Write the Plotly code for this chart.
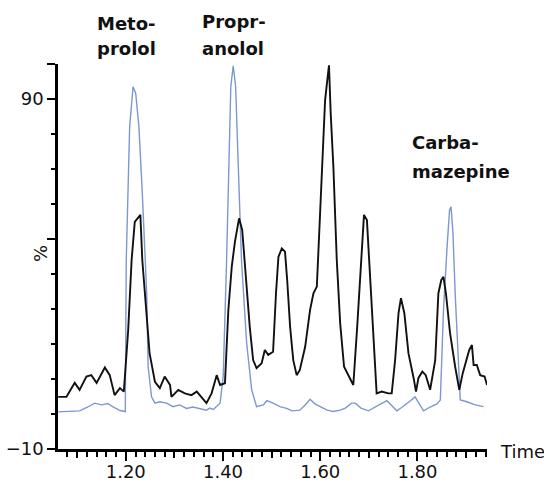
import plotly.graph_objects as go

# ---- data ----
time_black = [1.061, 1.078, 1.095, 1.105, 1.119, 1.129, 1.140, 1.157, 1.167, 1.177, 1.188, 1.196,
              1.205, 1.212, 1.2185, 1.225, 1.230, 1.234, 1.243, 1.249, 1.260, 1.270, 1.280, 1.291,
              1.294, 1.308, 1.3215, 1.335, 1.346, 1.356, 1.366, 1.3765, 1.387, 1.394, 1.404,
              1.411, 1.418, 1.4245, 1.433, 1.4395, 1.4465, 1.455, 1.462, 1.469, 1.4795, 1.486,
              1.493, 1.503, 1.509, 1.514, 1.521, 1.5275, 1.532, 1.538, 1.5445, 1.5515, 1.558,
              1.569, 1.579, 1.586, 1.593, 1.598, 1.604, 1.610, 1.6145, 1.618, 1.6215, 1.627,
              1.634, 1.641, 1.649, 1.658, 1.668, 1.676, 1.683, 1.690, 1.696, 1.7025, 1.709,
              1.716, 1.7265, 1.740, 1.747, 1.754, 1.761, 1.766, 1.773, 1.7815, 1.792, 1.797,
              1.802, 1.810, 1.817, 1.826, 1.8365, 1.843, 1.849, 1.8535, 1.8585, 1.867, 1.8775,
              1.886, 1.893, 1.902, 1.9065, 1.912, 1.9155, 1.922, 1.929, 1.938, 1.943]
pct_black = [4.9, 4.9, 8.9, 6.9, 10.7, 11.1, 8.9, 13.3, 11.1, 5.4, 7.4, 6.4,
             24.0, 44.0, 54.9, 55.9, 56.9, 44.0, 28.8, 17.3, 9.2, 7.4, 10.7, 8.3,
             4.9, 6.9, 5.9, 5.4, 6.4, 4.9, 3.1, 5.9, 11.1, 8.3, 8.8,
             29.7, 42.1, 49.2, 55.9, 52.6, 40.2, 24.9, 15.4, 13.1, 14.5, 18.3,
             16.9, 17.8, 34.5, 44.9, 47.3, 46.4, 38.3, 24.9, 15.4, 11.1, 12.6,
             19.2, 29.7, 34.5, 36.4, 53.5, 72.6, 89.7, 95.4, 99.6, 85.9, 70.7,
             44.0, 25.9, 13.5, 11.1, 8.3, 24.9, 42.1, 56.9, 55.4, 39.2, 20.2,
             5.9, 6.4, 5.9, 5.9, 15.4, 28.8, 33.1, 28.8, 17.3, 10.3, 6.4,
             10.3, 12.1, 11.1, 6.9, 15.4, 34.5, 38.3, 39.2, 34.5, 23.1, 13.5,
             6.9, 11.6, 16.4, 18.3, 19.7, 14.0, 14.0, 11.1, 10.7, 8.3]

time_blue = [1.061, 1.085, 1.105, 1.122, 1.136, 1.150, 1.163, 1.173, 1.188, 1.199,
             1.201, 1.208, 1.215, 1.2205, 1.227, 1.234, 1.243, 1.246, 1.253, 1.260,
             1.270, 1.284, 1.297, 1.311, 1.325, 1.338, 1.352, 1.366, 1.373, 1.380, 1.394,
             1.4004, 1.4074, 1.412, 1.416, 1.421, 1.426, 1.431, 1.438, 1.4486, 1.459,
             1.469, 1.483, 1.490, 1.503, 1.517, 1.531, 1.542, 1.558, 1.569, 1.579, 1.589,
             1.600, 1.614, 1.627, 1.641, 1.6515, 1.6645, 1.672, 1.684, 1.699, 1.713, 1.723,
             1.737, 1.746, 1.7575, 1.766, 1.775, 1.785, 1.795, 1.8035, 1.8125, 1.826, 1.840,
             1.847, 1.8535, 1.8605, 1.866, 1.869, 1.873, 1.8775, 1.8845, 1.888, 1.9015,
             1.919, 1.936]
pct_blue = [0.6, 0.7, 0.9, 2.0, 3.1, 2.6, 3.0, 2.1, 1.0, 0.7,
            44.0, 82.1, 93.5, 91.6, 82.1, 63.1, 34.6, 13.5, 4.9, 3.1,
            3.5, 3.1, 2.1, 2.6, 1.6, 2.0, 1.6, 1.1, 1.7, 1.3, 3.1,
            10.7, 44.0, 72.6, 93.5, 99.5, 93.5, 72.6, 44.0, 20.3, 6.9,
            2.1, 2.6, 3.8, 3.1, 2.1, 1.6, 0.9, 1.1, 2.6, 4.2, 2.9,
            2.1, 1.1, 0.7, 1.1, 1.7, 3.1, 3.1, 1.7, 0.9, 2.0, 2.9,
            3.8, 2.6, 0.9, 1.7, 2.6, 3.7, 4.9, 3.1, 0.9, 2.0, 2.9,
            4.0, 29.7, 46.9, 58.3, 59.2, 51.6, 34.5, 13.5, 4.0, 3.5,
            2.6, 2.1]

x_major = [1.20, 1.40, 1.60, 1.80]
x_major_text = ["1.20", "1.40", "1.60", "1.80"]
x_medium = [1.10, 1.30, 1.50, 1.70, 1.90]
y_ticks = [-10, 50, 90, 100]
y_ticks_text = ["\u221210", "", "90", ""]

# peak labels: (text, x in data units, y in paper units)
peak_labels = [
    ("Meto-", 1.1361, 1.105), ("prolol", 1.1361, 1.039),
    ("Propr-", 1.3524, 1.110), ("anolol", 1.3524, 1.039),
    ("Carba-", 1.785, 0.795), ("mazepine", 1.785, 0.721),
]

X_RANGE = [1.0606, 1.943]
Y_RANGE = [-10, 100]
FONT = "DejaVu Sans"

fig = go.Figure()
fig.add_trace(go.Scatter(x=time_blue, y=pct_blue, mode="lines",
                         line=dict(color="#7d97d2", width=1.4), showlegend=False,
                         hoverinfo="skip"))
fig.add_trace(go.Scatter(x=time_black, y=pct_black, mode="lines",
                         line=dict(color="#111111", width=1.9), showlegend=False,
                         hoverinfo="skip"))
# carriers for the extra tick-length axes
fig.add_trace(go.Scatter(x=[], y=[], xaxis="x2", showlegend=False))
fig.add_trace(go.Scatter(x=[], y=[], xaxis="x3", showlegend=False))

for txt, x, y in peak_labels:
    fig.add_annotation(x=x, y=y, xref="x", yref="paper", text=txt, showarrow=False,
                       xanchor="left", yanchor="middle",
                       font=dict(family=FONT, size=18, color="#111111", weight="bold"))

fig.add_annotation(x=1.0256, y=-0.007, xref="paper", yref="paper", text="Time",
                   showarrow=False, xanchor="left", yanchor="middle",
                   font=dict(family=FONT, size=18, color="#111111"))
fig.add_annotation(x=-0.042, y=0.509, xref="paper", yref="paper", text="%",
                   showarrow=False, textangle=-90, xanchor="center", yanchor="middle",
                   font=dict(family=FONT, size=18, color="#111111"))

tick_common = dict(showgrid=False, zeroline=False, showline=False, automargin=False,
                   showticklabels=False, ticks="outside", tickwidth=1.5,
                   tickcolor="black", tickmode="array")

fig.update_layout(
    width=544, height=482,
    margin=dict(l=58, r=57, t=64, b=33, autoexpand=False),
    paper_bgcolor="white", plot_bgcolor="white",
    font=dict(family=FONT, size=18, color="#111111"),
    xaxis=dict(range=X_RANGE, showgrid=False, zeroline=False, automargin=False,
               showline=True, linecolor="black", linewidth=2.5,
               tickmode="array", tickvals=x_major, ticktext=x_major_text,
               ticks="outside", ticklen=5, tickwidth=1.5, tickcolor="black",
               minor=dict(tickmode="linear", tick0=1.0, dtick=0.02, ticks="outside",
                          ticklen=5, tickwidth=1.5, tickcolor="black", showgrid=False),
               tickfont=dict(family=FONT, size=18, color="#111111")),
    xaxis2=dict(range=X_RANGE, overlaying="x", anchor="y", side="bottom",
                tickvals=x_medium, ticklen=8, **tick_common),
    xaxis3=dict(range=X_RANGE, overlaying="x", anchor="y", side="bottom",
                tickvals=x_major, ticklen=11, **tick_common),
    yaxis=dict(range=Y_RANGE, showgrid=False, zeroline=False, automargin=False,
               showline=True, linecolor="black", linewidth=2.5,
               tickmode="array", tickvals=y_ticks, ticktext=y_ticks_text,
               ticks="outside", ticklen=8, tickwidth=1.5, tickcolor="black",
               minor=dict(tickmode="linear", tick0=0, dtick=10, ticks="outside",
                          ticklen=4, tickwidth=1.5, tickcolor="black", showgrid=False),
               tickfont=dict(family=FONT, size=18, color="#111111")),
    hovermode=False,
)

fig.write_html("out.html")
